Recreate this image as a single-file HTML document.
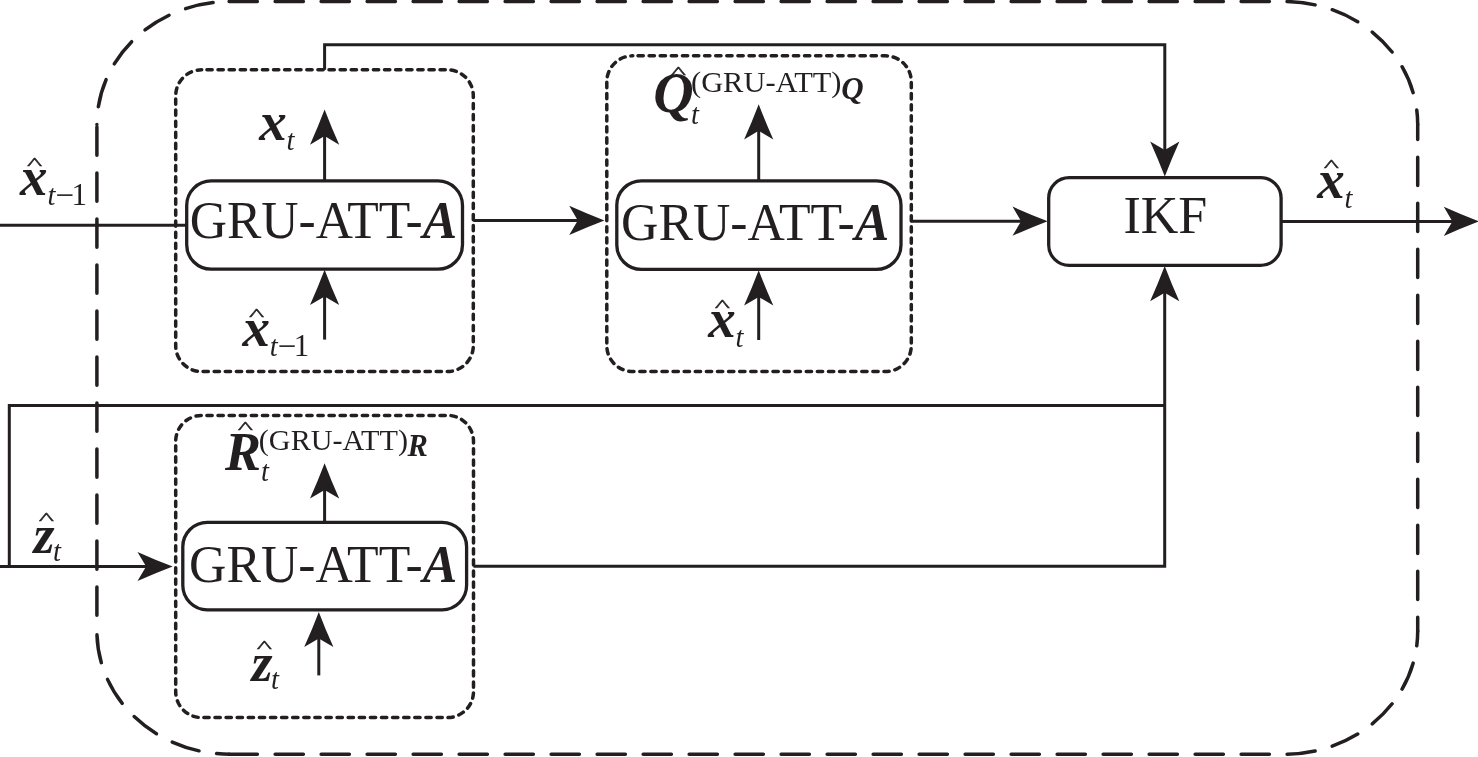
<!DOCTYPE html>
<html lang="en">
<head>
<meta charset="utf-8">
<title>GRU-ATT IKF block diagram</title>
<style>
html,body{margin:0;padding:0;background:#fff;}
body{width:1478px;height:757px;overflow:hidden;}
svg{display:block;will-change:transform;}
text{font-family:"Liberation Serif","Times New Roman",serif;fill:#231f20;}
.bi{font-weight:bold;font-style:italic;}
.it{font-style:italic;}
</style>
</head>
<body>
<svg width="1478" height="757" viewBox="0 0 1478 757">
<rect width="1478" height="757" fill="#fff"/>
<path d="M229.15 1.6 H1284.7 A133 123 0 0 1 1417.7 124.6" fill="none" stroke="#231f20" stroke-width="3.5" stroke-linecap="round" stroke-dasharray="28.2 17.8" stroke-dashoffset="0"/>
<path d="M229.15 754.2 H1284.7 A133 123 0 0 0 1417.7 631.2" fill="none" stroke="#231f20" stroke-width="3.5" stroke-linecap="round" stroke-dasharray="28.2 17.8" stroke-dashoffset="0"/>
<path d="M1417.7 124.6 V631.2" fill="none" stroke="#231f20" stroke-width="3.5" stroke-linecap="round" stroke-dasharray="28.2 17.8" stroke-dashoffset="13.35"/>
<path d="M96.9 124.6 V631.2" fill="none" stroke="#231f20" stroke-width="3.5" stroke-linecap="round" stroke-dasharray="28.2 17.8" stroke-dashoffset="43.55"/>
<path d="M229.15 1.6 H229.9 A133 123 0 0 0 96.9 124.6" fill="none" stroke="#231f20" stroke-width="3.5" stroke-linecap="round" stroke-dasharray="28.2 17.8" stroke-dashoffset="28.4"/>
<path d="M229.15 754.2 H229.9 A133 123 0 0 1 96.9 631.2" fill="none" stroke="#231f20" stroke-width="3.5" stroke-linecap="round" stroke-dasharray="28.2 17.8" stroke-dashoffset="14.1"/>
<rect x="175.7" y="69.8" width="297.6" height="301.8" rx="26" ry="26" fill="none" stroke="#231f20" stroke-width="3.5" stroke-dasharray="5.3 5.8" stroke-dashoffset="-5.2" stroke-linecap="round"/>
<rect x="606.8" y="55.8" width="304.5" height="315.8" rx="26" ry="26" fill="none" stroke="#231f20" stroke-width="3.5" stroke-dasharray="5.3 5.8" stroke-dashoffset="-5.2" stroke-linecap="round"/>
<rect x="175.7" y="415.4" width="297.8" height="302.2" rx="26" ry="26" fill="none" stroke="#231f20" stroke-width="3.5" stroke-dasharray="5.3 5.8" stroke-dashoffset="-5.2" stroke-linecap="round"/>
<path d="M0 225.3 H186.8" fill="none" stroke="#231f20" stroke-width="3.0" stroke-linejoin="miter"/>
<path d="M324.6 181 V130" fill="none" stroke="#231f20" stroke-width="3.0" stroke-linejoin="miter"/>
<path transform="translate(324.6 109.5) rotate(270)" d="M0 0 Q-17.4 -6.6 -35.2 -14.6 L-26.6 0 L-35.2 14.6 Q-17.4 6.6 0 0Z" fill="#231f20"/>
<path d="M324.6 339.6 V290" fill="none" stroke="#231f20" stroke-width="3.0" stroke-linejoin="miter"/>
<path transform="translate(324.6 269.8) rotate(270)" d="M0 0 Q-17.4 -6.6 -35.2 -14.6 L-26.6 0 L-35.2 14.6 Q-17.4 6.6 0 0Z" fill="#231f20"/>
<path d="M324.6 69.8 V44.7 H1164.8 V160" fill="none" stroke="#231f20" stroke-width="3.0" stroke-linejoin="miter"/>
<path transform="translate(1164.8 176.6) rotate(90)" d="M0 0 Q-17.4 -6.6 -35.2 -14.6 L-26.6 0 L-35.2 14.6 Q-17.4 6.6 0 0Z" fill="#231f20"/>
<path d="M473.3 220.4 H585" fill="none" stroke="#231f20" stroke-width="3.0" stroke-linejoin="miter"/>
<path transform="translate(604.4 220.4) rotate(0)" d="M0 0 Q-17.4 -6.6 -35.2 -14.6 L-26.6 0 L-35.2 14.6 Q-17.4 6.6 0 0Z" fill="#231f20"/>
<path d="M758.7 181 V125" fill="none" stroke="#231f20" stroke-width="3.0" stroke-linejoin="miter"/>
<path transform="translate(758.7 104.2) rotate(270)" d="M0 0 Q-17.4 -6.6 -35.2 -14.6 L-26.6 0 L-35.2 14.6 Q-17.4 6.6 0 0Z" fill="#231f20"/>
<path d="M758.7 340 V290" fill="none" stroke="#231f20" stroke-width="3.0" stroke-linejoin="miter"/>
<path transform="translate(758.7 270.3) rotate(270)" d="M0 0 Q-17.4 -6.6 -35.2 -14.6 L-26.6 0 L-35.2 14.6 Q-17.4 6.6 0 0Z" fill="#231f20"/>
<path d="M911.3 221.2 H1030" fill="none" stroke="#231f20" stroke-width="3.0" stroke-linejoin="miter"/>
<path transform="translate(1047.7 221.2) rotate(0)" d="M0 0 Q-17.4 -6.6 -35.2 -14.6 L-26.6 0 L-35.2 14.6 Q-17.4 6.6 0 0Z" fill="#231f20"/>
<path d="M1281 221.4 H1460" fill="none" stroke="#231f20" stroke-width="3.0" stroke-linejoin="miter"/>
<path transform="translate(1479.0 221.4) rotate(0)" d="M0 0 Q-17.4 -6.6 -35.2 -14.6 L-26.6 0 L-35.2 14.6 Q-17.4 6.6 0 0Z" fill="#231f20"/>
<path d="M9.3 566.5 V405.4 H1164.7" fill="none" stroke="#231f20" stroke-width="3.0" stroke-linejoin="miter"/>
<path d="M0 566.5 H150" fill="none" stroke="#231f20" stroke-width="3.0" stroke-linejoin="miter"/>
<path transform="translate(172.7 566.5) rotate(0)" d="M0 0 Q-17.4 -6.6 -35.2 -14.6 L-26.6 0 L-35.2 14.6 Q-17.4 6.6 0 0Z" fill="#231f20"/>
<path d="M473.5 566.2 H1164.7 V285" fill="none" stroke="#231f20" stroke-width="3.0" stroke-linejoin="miter"/>
<path transform="translate(1164.7 266.1) rotate(270)" d="M0 0 Q-17.4 -6.6 -35.2 -14.6 L-26.6 0 L-35.2 14.6 Q-17.4 6.6 0 0Z" fill="#231f20"/>
<path d="M324.6 523 V485" fill="none" stroke="#231f20" stroke-width="3.0" stroke-linejoin="miter"/>
<path transform="translate(324.6 463.3) rotate(270)" d="M0 0 Q-17.4 -6.6 -35.2 -14.6 L-26.6 0 L-35.2 14.6 Q-17.4 6.6 0 0Z" fill="#231f20"/>
<path d="M318.8 675.4 V630" fill="none" stroke="#231f20" stroke-width="3.0" stroke-linejoin="miter"/>
<path transform="translate(318.8 611.9) rotate(270)" d="M0 0 Q-17.4 -6.6 -35.2 -14.6 L-26.6 0 L-35.2 14.6 Q-17.4 6.6 0 0Z" fill="#231f20"/>
<rect x="186.7" y="180.9" width="275.8" height="88.3" rx="24.5" ry="24.5" fill="#fff" stroke="#231f20" stroke-width="3.3"/>
<rect x="616.8" y="180.8" width="284.2" height="88.6" rx="24.5" ry="24.5" fill="#fff" stroke="#231f20" stroke-width="3.3"/>
<rect x="1048.7" y="177.6" width="232.4" height="87.8" rx="20.5" ry="20.5" fill="#fff" stroke="#231f20" stroke-width="3.3"/>
<rect x="182.8" y="522.3" width="283.8" height="87.5" rx="24.5" ry="24.5" fill="#fff" stroke="#231f20" stroke-width="3.3"/>
<text x="189.7" y="237.6" font-size="52" textLength="267.4" lengthAdjust="spacingAndGlyphs">GRU-ATT-<tspan class="bi">A</tspan></text>
<text x="621.1" y="240.0" font-size="52" textLength="268.0" lengthAdjust="spacingAndGlyphs">GRU-ATT-<tspan class="bi">A</tspan></text>
<text x="189.1" y="582.0" font-size="52" textLength="268.1" lengthAdjust="spacingAndGlyphs">GRU-ATT-<tspan class="bi">A</tspan></text>
<text x="1123.5" y="232.7" font-size="52">IKF</text>
<text class="bi" x="259.2" y="139.8" font-size="55">x</text>
<text class="it" x="286.5" y="150.2" font-size="28.5">t</text>
<text class="bi" x="20.1" y="194.8" font-size="55">x</text>
<text class="it" x="47.4" y="205.2" font-size="28.5">t</text>
<text x="64.8" y="205.8" font-size="33" text-anchor="middle">−</text>
<text x="71.5" y="204.9" font-size="31">1</text>
<text transform="translate(34.5 158.5) scale(1 0.505)" x="0" y="21.19" font-size="32.35" text-anchor="middle" stroke="#231f20" stroke-width="0.7" stroke-linejoin="miter">^</text>
<text class="bi" x="242.4" y="345.9" font-size="55">x</text>
<text class="it" x="269.7" y="356.3" font-size="28.5">t</text>
<text x="287.1" y="356.9" font-size="33" text-anchor="middle">−</text>
<text x="293.8" y="356.0" font-size="31">1</text>
<text transform="translate(256.6 308.9) scale(1 0.505)" x="0" y="21.19" font-size="32.35" text-anchor="middle" stroke="#231f20" stroke-width="0.7" stroke-linejoin="miter">^</text>
<text class="bi" x="708.3" y="336.7" font-size="55">x</text>
<text class="it" x="735.6" y="347.1" font-size="28.5">t</text>
<text transform="translate(722.4 300.6) scale(1 0.505)" x="0" y="21.19" font-size="32.35" text-anchor="middle" stroke="#231f20" stroke-width="0.7" stroke-linejoin="miter">^</text>
<text class="bi" x="1317.2" y="197.5" font-size="55">x</text>
<text class="it" x="1344.5" y="207.9" font-size="28.5">t</text>
<text transform="translate(1331.3 160.5) scale(1 0.505)" x="0" y="21.19" font-size="32.35" text-anchor="middle" stroke="#231f20" stroke-width="0.7" stroke-linejoin="miter">^</text>
<text class="bi" x="33.6" y="553.1" font-size="54">z</text>
<text class="it" x="53.0" y="561.0" font-size="28.5">t</text>
<text transform="translate(46.4 513.4) scale(1 0.505)" x="0" y="21.19" font-size="32.35" text-anchor="middle" stroke="#231f20" stroke-width="0.7" stroke-linejoin="miter">^</text>
<text class="bi" x="251.6" y="681.4" font-size="54">z</text>
<text class="it" x="271.0" y="689.3" font-size="28.5">t</text>
<text transform="translate(264.4 641.7) scale(1 0.505)" x="0" y="21.19" font-size="32.35" text-anchor="middle" stroke="#231f20" stroke-width="0.7" stroke-linejoin="miter">^</text>
<text class="bi" x="653.2" y="112.0" font-size="56">Q</text>
<text transform="translate(678.4 67.7) scale(1 0.505)" x="0" y="21.19" font-size="32.35" text-anchor="middle" stroke="#231f20" stroke-width="0.7" stroke-linejoin="miter">^</text>
<text class="it" x="691.1" y="123.7" font-size="28.5">t</text>
<text x="691.0" y="91.8" font-size="30" textLength="150.5" lengthAdjust="spacingAndGlyphs">(GRU-ATT)</text>
<text class="bi" x="841.3" y="98.5" font-size="31">Q</text>
<text class="bi" x="225.0" y="469.7" font-size="54">R</text>
<text transform="translate(245.4 422.3) scale(1 0.505)" x="0" y="21.19" font-size="32.35" text-anchor="middle" stroke="#231f20" stroke-width="0.7" stroke-linejoin="miter">^</text>
<text class="it" x="261.1" y="481.0" font-size="28.5">t</text>
<text x="258.8" y="449.8" font-size="30" textLength="149.2" lengthAdjust="spacingAndGlyphs">(GRU-ATT)</text>
<text class="bi" x="407.5" y="455.7" font-size="30.5">R</text>
</svg>
</body>
</html>
